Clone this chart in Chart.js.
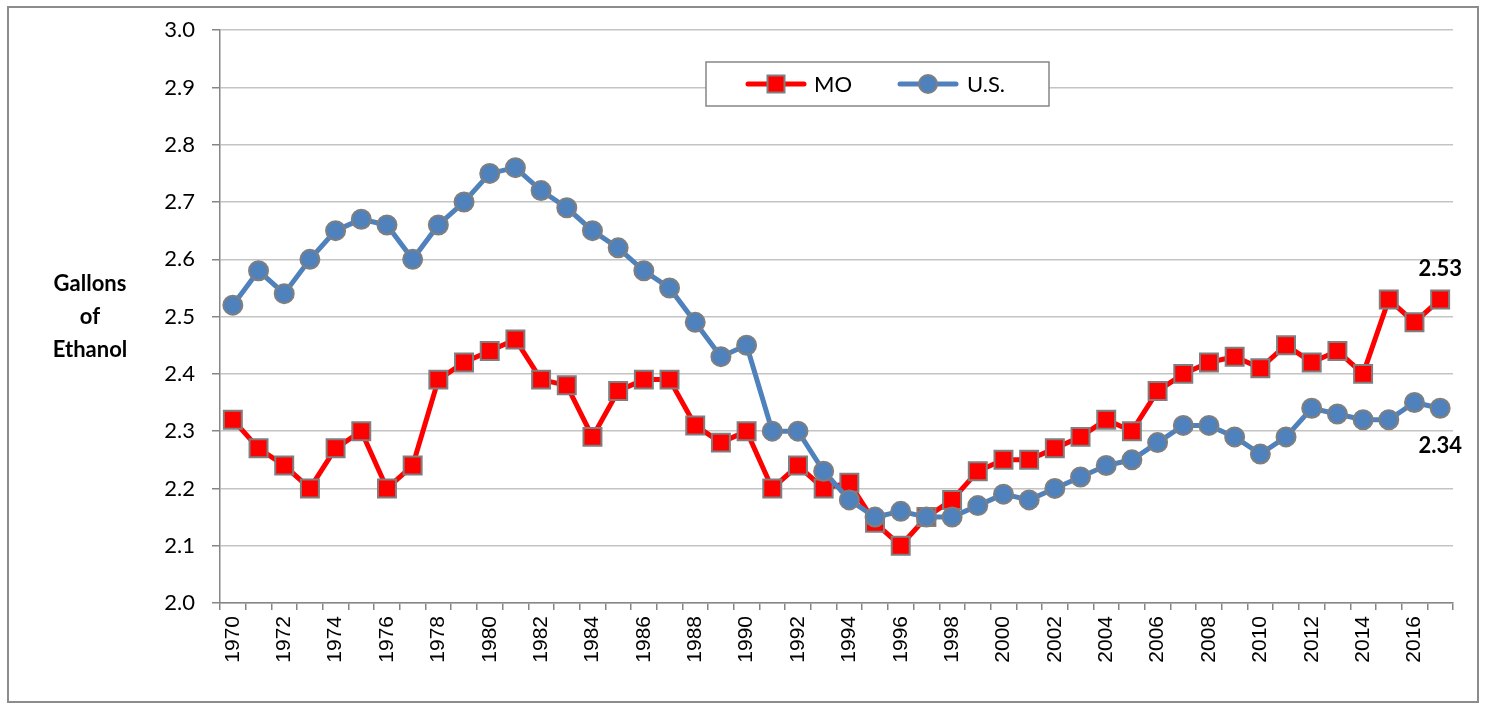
<!DOCTYPE html>
<html>
<head>
<meta charset="utf-8">
<script src="https://cdn.jsdelivr.net/npm/chart.js@4"></script>
<style>
  html, body { margin: 0; padding: 0; background: #fff; }
  #wrap { width: 1486px; height: 704px; }
</style>
</head>
<body>
<div id="wrap"><canvas id="ethanolChart" width="1486" height="704"></canvas></div>
<script>
const years = [
  "1970","1971","1972","1973","1974","1975","1976","1977","1978","1979",
  "1980","1981","1982","1983","1984","1985","1986","1987","1988","1989",
  "1990","1991","1992","1993","1994","1995","1996","1997","1998","1999",
  "2000","2001","2002","2003","2004","2005","2006","2007","2008","2009",
  "2010","2011","2012","2013","2014","2015","2016","2017"
];

const moValues = [
  2.32, 2.27, 2.24, 2.20, 2.27, 2.30, 2.20, 2.24, 2.39, 2.42,
  2.44, 2.46, 2.39, 2.38, 2.29, 2.37, 2.39, 2.39, 2.31, 2.28,
  2.30, 2.20, 2.24, 2.20, 2.21, 2.14, 2.10, 2.15, 2.18, 2.23,
  2.25, 2.25, 2.27, 2.29, 2.32, 2.30, 2.37, 2.40, 2.42, 2.43,
  2.41, 2.45, 2.42, 2.44, 2.40, 2.53, 2.49, 2.53
];

const usValues = [
  2.52, 2.58, 2.54, 2.60, 2.65, 2.67, 2.66, 2.60, 2.66, 2.70,
  2.75, 2.76, 2.72, 2.69, 2.65, 2.62, 2.58, 2.55, 2.49, 2.43,
  2.45, 2.30, 2.30, 2.23, 2.18, 2.15, 2.16, 2.15, 2.15, 2.17,
  2.19, 2.18, 2.20, 2.22, 2.24, 2.25, 2.28, 2.31, 2.31, 2.29,
  2.26, 2.29, 2.34, 2.33, 2.32, 2.32, 2.35, 2.34
];

const yMin = 2.0;
const yMax = 3.0;
const yStep = 0.1;
const yTitle = ["Gallons", "of", "Ethanol"];

const RED = "#ff0000";
const BLUE = "#4f81bd";
const MARKER_EDGE = "#7f7f7f";
const AXIS_GRAY = "#868686";
const FONT = "Lato, 'Open Sans', sans-serif";

// gray frame around the whole picture
const framePlugin = {
  id: "frame",
  beforeDraw(chart){
    const ctx = chart.ctx;
    ctx.save();
    ctx.fillStyle = "#fff";
    ctx.fillRect(0, 0, chart.width, chart.height);
    ctx.strokeStyle = "#8c8c8c";
    ctx.lineWidth = 2;
    ctx.strokeRect(8, 7, 1470, 695);
    ctx.restore();
  }
};

// horizontal three-line axis title left of the tick labels
const yTitlePlugin = {
  id: "yTitle",
  afterDraw(chart){
    const ctx = chart.ctx;
    ctx.save();
    ctx.font = "bold 22px " + FONT;
    ctx.fillStyle = "#000";
    ctx.textAlign = "center";
    ctx.textBaseline = "middle";
    yTitle.forEach((line, i) => ctx.fillText(line, 90, 284 + i * 33));
    ctx.restore();
  }
};

// boxed legend sitting inside the plot, line + marker per series
const boxLegendPlugin = {
  id: "boxLegend",
  afterDatasetsDraw(chart){
    const ctx = chart.ctx;
    const x0 = 706, y0 = 62, w = 343, h = 44;
    const cy = y0 + h / 2;
    ctx.save();
    ctx.fillStyle = "#fff";
    ctx.fillRect(x0, y0, w, h);
    ctx.strokeStyle = AXIS_GRAY;
    ctx.lineWidth = 1.5;
    ctx.strokeRect(x0, y0, w, h);

    const items = [
      {ds: chart.data.datasets[0], lx: 748, mx: 776, tx: 814},
      {ds: chart.data.datasets[1], lx: 900, mx: 928, tx: 967}
    ];
    items.forEach(it => {
      ctx.strokeStyle = it.ds.borderColor;
      ctx.lineWidth = 5;
      ctx.lineCap = "round";
      ctx.beginPath();
      ctx.moveTo(it.lx, cy);
      ctx.lineTo(it.lx + 56, cy);
      ctx.stroke();

      ctx.fillStyle = it.ds.pointBackgroundColor;
      ctx.strokeStyle = MARKER_EDGE;
      ctx.lineWidth = 2;
      ctx.beginPath();
      if(it.ds.pointStyle === "rect") ctx.rect(it.mx - 8.5, cy - 8.5, 17, 17);
      else ctx.arc(it.mx, cy, 9, 0, Math.PI * 2);
      ctx.fill();
      ctx.stroke();

      ctx.fillStyle = "#000";
      ctx.font = "22px " + FONT;
      ctx.textAlign = "left";
      ctx.textBaseline = "middle";
      ctx.fillText(it.ds.label, it.tx, cy + 1);
    });
    ctx.restore();
  }
};

// value labels on the final year of each series
const endLabelPlugin = {
  id: "endLabels",
  afterDatasetsDraw(chart){
    const ctx = chart.ctx;
    ctx.save();
    ctx.font = "bold 22px " + FONT;
    ctx.fillStyle = "#000";
    ctx.textAlign = "center";
    ctx.textBaseline = "middle";
    chart.data.datasets.forEach((ds, i) => {
      const meta = chart.getDatasetMeta(i);
      const last = meta.data[meta.data.length - 1];
      const value = ds.data[ds.data.length - 1];
      const dy = ds.endLabelOffset;
      ctx.fillText(value.toFixed(2), last.x, last.y + dy);
    });
    ctx.restore();
  }
};

const chart = new Chart(document.getElementById("ethanolChart"), {
  type: "line",
  data: {
    labels: years,
    datasets: [
      {
        label: "MO",
        data: moValues,
        borderColor: RED,
        borderWidth: 5,
        pointStyle: "rect",
        pointRadius: 12.7,
        pointBackgroundColor: RED,
        pointBorderColor: MARKER_EDGE,
        pointBorderWidth: 2,
        tension: 0,
        order: 2,
        endLabelOffset: -31
      },
      {
        label: "U.S.",
        data: usValues,
        borderColor: BLUE,
        borderWidth: 5,
        pointStyle: "circle",
        pointRadius: 9.5,
        pointBackgroundColor: BLUE,
        pointBorderColor: MARKER_EDGE,
        pointBorderWidth: 2,
        tension: 0,
        order: 1,
        endLabelOffset: 38
      }
    ]
  },
  options: {
    responsive: false,
    animation: false,
    events: [],
    layout: {padding: {top: 30, right: 33, left: 0, bottom: 0}},
    plugins: {
      legend: {display: false},
      tooltip: {enabled: false}
    },
    scales: {
      x: {
        offset: true,
        grid: {
          offset: true,
          drawOnChartArea: false,
          tickLength: 7,
          color: AXIS_GRAY,
          lineWidth: 1.5
        },
        border: {color: AXIS_GRAY, width: 1.5},
        ticks: {
          autoSkip: false,
          minRotation: 90,
          maxRotation: 90,
          padding: 6,
          color: "#000",
          font: {family: "'Liberation Sans', Arial, sans-serif", size: 21},
          callback: (v, i) => i % 2 === 0 ? years[i] : ""
        },
        afterFit: scale => { scale.height = 101; }
      },
      y: {
        min: yMin,
        max: yMax,
        grid: {
          color: "#c4c4c4",
          lineWidth: 1.5,
          tickLength: 8,
          tickColor: AXIS_GRAY
        },
        border: {color: AXIS_GRAY, width: 1.5},
        ticks: {
          stepSize: yStep,
          padding: 17,
          color: "#000",
          font: {family: FONT, size: 22},
          callback: v => v.toFixed(1)
        },
        afterFit: scale => { scale.width = 220; }
      }
    }
  },
  plugins: [framePlugin, yTitlePlugin, boxLegendPlugin, endLabelPlugin]
});
</script>
</body>
</html>
